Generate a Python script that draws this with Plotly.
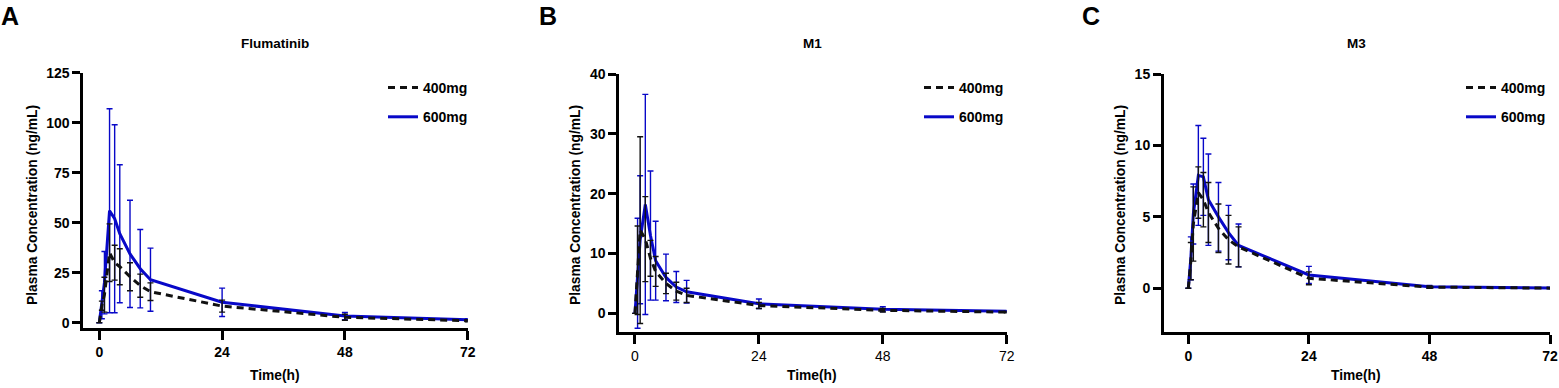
import plotly.graph_objects as go

W, H = 1559, 388

time_h = [0, 0.5, 1, 2, 3, 4, 6, 8, 10, 24, 48, 72]
dose_labels = ["400mg", "600mg"]

flu_400 = [0, 8.5, 14, 35, 30, 28, 23, 18.5, 15.5, 8.3, 2.7, 1.0]
flu_400_sd = [0, 2.3, 8.7, 14.4, 8.7, 9, 7, 5.8, 4.4, 3, 1.5, 0.5]
flu_600 = [0, 9, 20, 56, 52, 44.5, 34.4, 27, 21.5, 10.2, 3.3, 1.5]
flu_600_sd = [0, 7, 15.6, 51, 47, 34.5, 26.8, 19.6, 15.8, 7.1, 1.8, 0.5]

m1_400 = [0, 7.2, 13.9, 12.4, 9.2, 7, 5, 3.7, 3.0, 1.3, 0.5, 0.2]
m1_400_sd = [0, 7.4, 15.6, 7.1, 3.0, 2.5, 1.7, 1.5, 1.2, 0.5, 0.3, 0.1]
m1_600 = [0, 6.7, 12.3, 18.2, 13, 8.8, 6, 4.4, 3.6, 1.6, 0.7, 0.35]
m1_600_sd = [0, 9.2, 10.7, 18.4, 10.8, 6.6, 3.9, 2.6, 1.9, 0.8, 0.4, 0.1]

m3_400 = [0, 1.9, 4.5, 6.7, 6.2, 5.3, 4.2, 3.4, 2.9, 0.7, 0.08, 0.01]
m3_400_sd = [0, 1.3, 2.6, 1.8, 1.9, 2.1, 1.7, 1.7, 1.4, 0.45, 0.08, 0.02]
m3_600 = [0, 2.1, 5.2, 7.9, 7.8, 6.2, 5.0, 3.9, 3.0, 0.93, 0.1, 0.02]
m3_600_sd = [0, 1.5, 2.1, 3.5, 2.7, 3.2, 2.4, 1.9, 1.5, 0.6, 0.1, 0.03]

x_ticks = [0, 24, 48, 72]
titles = ["Flumatinib", "M1", "M3"]
letters = ["A", "B", "C"]
y_ticks = [[0, 25, 50, 75, 100, 125], [0, 10, 20, 30, 40], [0, 5, 10, 15]]

BLUE = "#0808c8"
BLACK = "#111111"
FONT = "Arial, Liberation Sans, sans-serif"


def fx(px):
    return px / W


def fy(py):
    return 1 - py / H


# panel geometry (pixels)
panels = [
    dict(x0=83.3, x1=467.7, yt=72.7, yb=328.3, xr=[-3.13, 72], yr=[-2.8, 125],
         ytitle_x=32, title_x=275, letter_x=10, leg_x=383, xbold=True),
    dict(x0=619.3, x1=1006.7, yt=74, yb=331.7, xr=[-3.04, 72], yr=[-3.07, 40],
         ytitle_x=575, title_x=812, letter_x=548, leg_x=919, xbold=False),
    dict(x0=1164, x1=1550, yt=74, yb=331.7, xr=[-4.84, 72], yr=[-3.04, 15],
         ytitle_x=1120, title_x=1356, letter_x=1091, leg_x=1461, xbold=True),
]

series = [
    (flu_400, flu_400_sd, flu_600, flu_600_sd),
    (m1_400, m1_400_sd, m1_600, m1_600_sd),
    (m3_400, m3_400_sd, m3_600, m3_600_sd),
]

fig = go.Figure()
layout = dict(
    template="simple_white",
    width=W, height=H, margin=dict(l=0, r=0, t=0, b=0, autoexpand=False),
    paper_bgcolor="white", plot_bgcolor="white",
    font=dict(family=FONT, color="black"),
    hovermode=False,
    annotations=[],
)

for i, (p, s) in enumerate(zip(panels, series)):
    n = "" if i == 0 else str(i + 1)
    xa, ya = "x" + n, "y" + n
    leg = "legend" + n
    v4, sd4, v6, sd6 = s
    # blue first (drawn underneath), black on top
    fig.add_trace(go.Scatter(
        x=time_h, y=v6, mode="lines", name=dose_labels[1], xaxis=xa, yaxis=ya,
        line=dict(color=BLUE, width=3),
        error_y=dict(type="data", array=sd6, visible=True, color=BLUE, thickness=1.4, width=3),
        legend=leg, legendgroup=f"b{i}", legendrank=2, showlegend=True,
    ))
    fig.add_trace(go.Scatter(
        x=time_h, y=v4, mode="lines", name=dose_labels[0], xaxis=xa, yaxis=ya,
        line=dict(color=BLACK, width=3, dash="7px,5px"),
        error_y=dict(type="data", array=sd4, visible=True, color=BLACK, thickness=1.4, width=3),
        legend=leg, legendgroup=f"a{i}", legendrank=1, showlegend=True,
    ))
    layout["xaxis" + n] = dict(
        domain=[fx(p["x0"]), fx(p["x1"])], range=p["xr"], anchor=ya,
        tickvals=x_ticks, ticks="outside", ticklen=9, tickwidth=2.5, tickcolor="black",
        showline=True, linewidth=3, linecolor="black", showgrid=False, zeroline=False,
        layer="above traces", mirror=False,
        tickfont=dict(family=FONT, size=14, color="black",
                      weight="bold" if p["xbold"] else "normal"),
    )
    layout["yaxis" + n] = dict(
        domain=[fy(p["yb"]), fy(p["yt"])], range=p["yr"], anchor=xa,
        tickvals=y_ticks[i], ticks="outside", ticklen=8, tickwidth=2.5, tickcolor="black",
        showline=True, linewidth=3, linecolor="black", showgrid=False, zeroline=False,
        layer="above traces", mirror=False,
        tickfont=dict(family=FONT, size=14, color="black", weight="bold"),
    )
    layout[leg] = dict(
        x=fx(p["leg_x"]), y=fy(72), xanchor="left", yanchor="top",
        bgcolor="rgba(0,0,0,0)", traceorder="grouped", tracegroupgap=8,
        font=dict(family=FONT, size=14, color="black", weight="bold"),
    )
    layout["annotations"] += [
        dict(text="Plasma Concentration (ng/mL)", x=fx(p["ytitle_x"]), y=fy(205),
             xref="paper", yref="paper", showarrow=False, textangle=-90,
             xanchor="center", yanchor="middle",
             font=dict(family=FONT, size=13.8, weight="bold")),
        dict(text="Time(h)", x=fx(p["title_x"]), y=fy(375), xref="paper", yref="paper",
             showarrow=False, xanchor="center", yanchor="middle",
             font=dict(family=FONT, size=13.8, weight="bold")),
        dict(text=titles[i], x=fx(p["title_x"]), y=fy(43), xref="paper", yref="paper",
             showarrow=False, xanchor="center", yanchor="middle",
             font=dict(family=FONT, size=13.5, weight="bold")),
        dict(text=letters[i], x=fx(p["letter_x"]), y=fy(16), xref="paper", yref="paper",
             showarrow=False, xanchor="center", yanchor="middle",
             font=dict(family=FONT, size=25, weight="bold")),
    ]

fig.update_layout(**layout)
fig.write_html("out.html", config={"displayModeBar": False},
               post_script="document.body.style.margin='0px';")
